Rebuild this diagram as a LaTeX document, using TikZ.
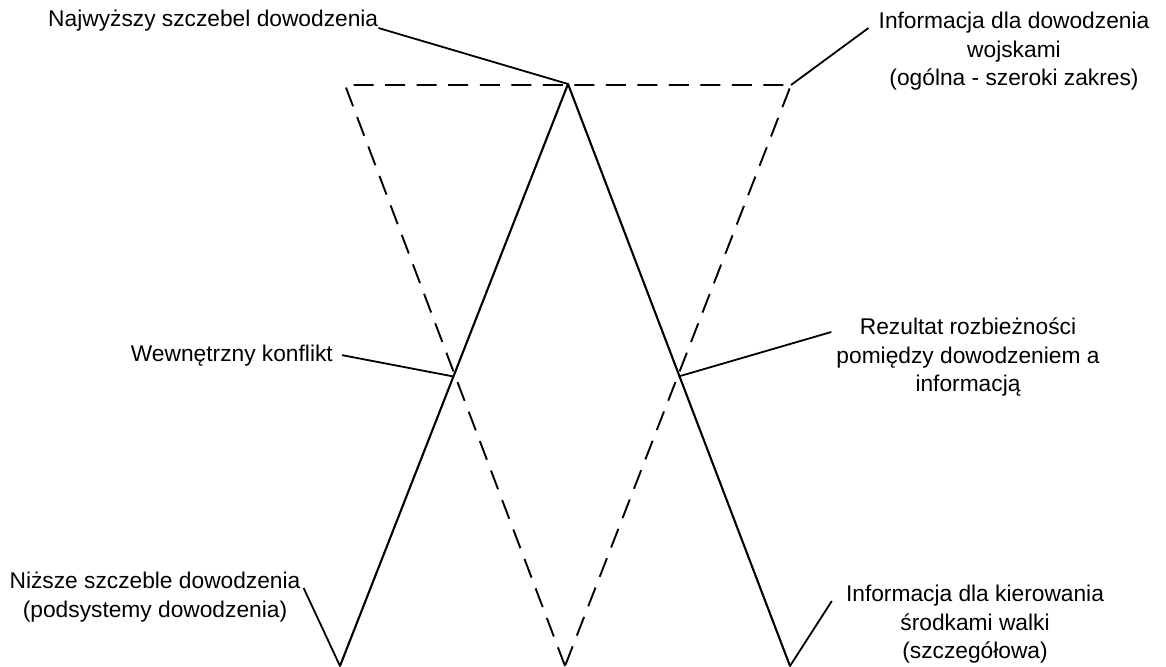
\documentclass[tikz,border=0pt]{standalone}
\usepackage{fontspec}
\setmainfont{Liberation Sans}
\usetikzlibrary{calc}
\begin{document}
\begin{tikzpicture}[x=1pt,y=-1pt,
  lbl/.style={inner sep=0pt, align=center, font=\fontsize{22.75}{28.5}\selectfont},
  solidline/.style={line width=2.1pt, line cap=round, line join=round},
  dashline/.style={line width=1.9pt, dash pattern=on 20pt off 11.5pt},
  leader/.style={line width=1.8pt}]
\useasboundingbox (0,0) rectangle (1166,666);
% vertices
\coordinate (apex) at (568,84);
\coordinate (sbl) at (340,666);
\coordinate (sbr) at (790,666);
\coordinate (dtl) at (345,85);
\coordinate (dtr) at (791,85);
\coordinate (dbot) at (565,666);
\coordinate (xl) at (453.5,376.5);
\coordinate (xr) at (678.5,376.5);
% triangles
\draw[solidline] (sbl) -- (apex) -- (sbr);
\draw[dashline] (dbot) -- (dtl) -- (dtr) -- (dbot);
% labels
\node[lbl, anchor=base west] (t1) at (48,27) {Najwyższy szczebel dowodzenia};
\node[lbl, anchor=north] (t2) at (1014,12) {Informacja dla dowodzenia\\wojskami\\(ogólna - szeroki zakres)};
\node[lbl, anchor=base east] (t3) at (333,361) {Wewnętrzny konflikt};
\node[lbl, anchor=north] (t4) at (968,318) {Rezultat rozbieżności\\pomiędzy dowodzeniem a\\informacją};
\node[lbl, anchor=north] (t5) at (155,572) {Niższe szczeble dowodzenia\\(podsystemy dowodzenia)};
\node[lbl, anchor=north] (t6) at (975,585) {Informacja dla kierowania\\środkami walki\\(szczegółowa)};
% leaders
\coordinate (l1) at ($(t1.base east)+(0,1)$);
\coordinate (l2) at ($(t2.north west)+(-10,16)$);
\coordinate (l3) at ($(t3.east)+(9,0)$);
\coordinate (l4) at ($(t4.north west)+(-5,14)$);
\coordinate (l5) at ($(t5.north east)+(3,16)$);
\coordinate (l6) at ($(t6.north west)+(-14,16)$);
\draw[leader] (l1) -- (apex);
\draw[leader] (l2) -- (dtr);
\draw[leader] (l3) -- (xl);
\draw[leader] (l4) -- (xr);
\draw[leader] (l5) -- (sbl);
\draw[leader] (l6) -- (sbr);
\end{tikzpicture}
\end{document}
